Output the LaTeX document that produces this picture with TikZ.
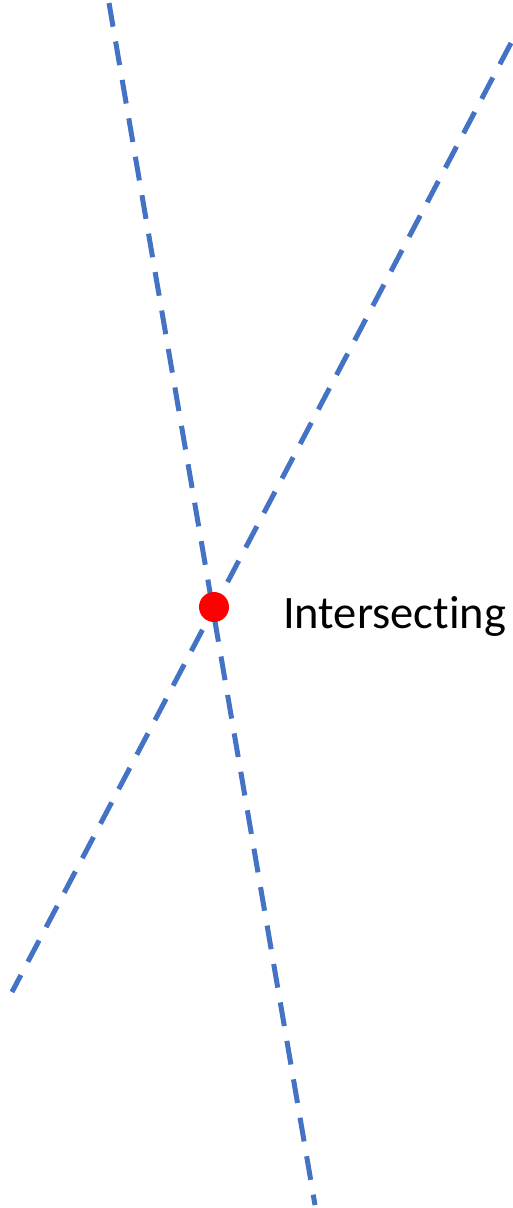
\documentclass[tikz,border=0pt]{standalone}
\usepackage{fontspec}
\setmainfont[Ligatures=CommonOff]{Carlito}
\begin{document}
\begin{tikzpicture}[x=1pt,y=-1pt,
  guide/.style={draw={rgb,255:red,68;green,114;blue,196}, line width=5pt, line cap=butt, dash pattern=on 24pt off 15pt},
  dot/.style={circle, fill=red, inner sep=0pt, minimum size=30pt}]
\useasboundingbox (0,0) rectangle (512,1208);
\coordinate (a1) at (109,3);
\coordinate (a2) at (315,1205);
\coordinate (b1) at (511,43);
\coordinate (b2) at (12,992);
\draw[guide] (a1) -- (a2);
\draw[guide] (b1) -- (b2);
\node[dot] (p) at (214,607) {};
\node[anchor=base west, inner sep=0pt, font=\fontsize{46.5}{50}\selectfont] (lbl) at (283,628) {Intersecting};
\end{tikzpicture}
\end{document}
